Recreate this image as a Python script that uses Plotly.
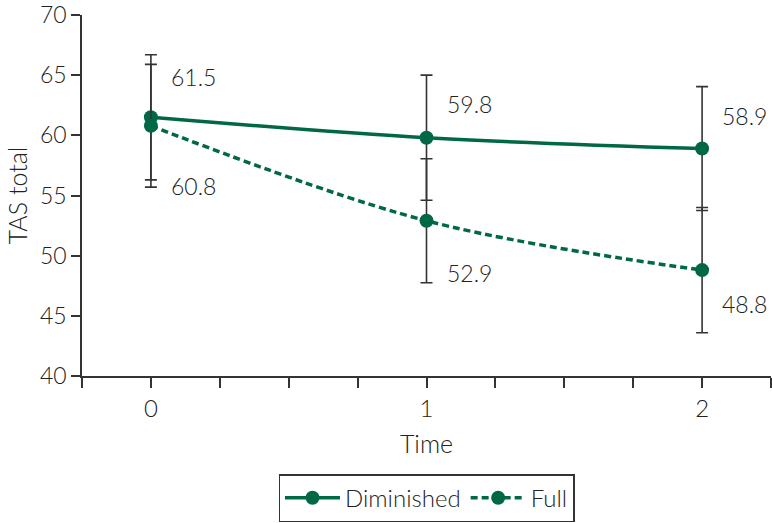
import plotly.graph_objects as go

time_points = [0, 1, 2]
diminished = [61.5, 59.8, 58.9]
diminished_err = [5.2, 5.2, 5.15]
full = [60.8, 52.9, 48.8]
full_err = [5.1, 5.15, 5.2]
y_ticks = [40, 45, 50, 55, 60, 65, 70]
x_tick_vals = [-0.25, 0, 0.25, 0.5, 0.75, 1, 1.25, 1.5, 1.75, 2, 2.25]
x_tick_text = ["", "0", "", "", "", "1", "", "", "", "2", ""]

GREEN = "#006846"
DARK = "#333333"
FONT = "Lato"

fig = go.Figure()
fig.add_trace(go.Scatter(
    x=time_points, y=diminished, name="Diminished", mode="lines+markers",
    line=dict(color=GREEN, width=3.5, shape="spline"),
    marker=dict(color=GREEN, size=14),
    error_y=dict(type="data", array=diminished_err, color=DARK, thickness=1.6, width=6),
))
fig.add_trace(go.Scatter(
    x=time_points, y=full, name="Full", mode="lines+markers",
    line=dict(color=GREEN, width=3.5, shape="spline", dash="7px,4px"),
    marker=dict(color=GREEN, size=14),
    error_y=dict(type="data", array=full_err, color=DARK, thickness=1.6, width=6),
))

dim_shift = [40, 34, 33]
full_shift = [-60, -52, -34]
for xs, ys, shifts in [(time_points, diminished, dim_shift), (time_points, full, full_shift)]:
    for xv, yv, s in zip(xs, ys, shifts):
        fig.add_annotation(x=xv, y=yv, text=f"{yv:.1f}", showarrow=False,
                           xanchor="left", yanchor="middle", xshift=18, yshift=s,
                           font=dict(family=FONT, size=23, color="#222", weight=300))

fig.update_layout(
    width=772, height=523,
    margin=dict(l=82, r=1, t=15, b=147, autoexpand=False),
    paper_bgcolor="white", plot_bgcolor="white",
    font=dict(family=FONT, size=23, color="#222", weight=300),
    showlegend=True,
    legend=dict(orientation="h", x=0.5, xanchor="center", y=-0.272, yanchor="top",
                bordercolor=DARK, borderwidth=1.5, font=dict(size=24, family=FONT, weight=300),
                itemwidth=55, tracegroupgap=0),
    xaxis=dict(range=[-0.25, 2.25], tickmode="array", tickvals=x_tick_vals, ticktext=x_tick_text,
               ticks="outside", ticklen=10, tickwidth=1.5, tickcolor=DARK, automargin=False,
               showline=True, linecolor=DARK, linewidth=1.6, showgrid=False, zeroline=False,
               title=dict(text="Time", standoff=15, font=dict(size=25)),
               tickfont=dict(size=24)),
    yaxis=dict(range=[40, 70], tickmode="array", tickvals=y_ticks, automargin=False,
               ticks="outside", ticklen=9, tickwidth=1.5, tickcolor=DARK,
               ticklabeloverflow="allow",
               showline=True, linecolor=DARK, linewidth=1.6, showgrid=False, zeroline=False,
               title=dict(text="TAS total", standoff=5, font=dict(size=25)),
               tickfont=dict(size=23)),
)

fig.write_html("out.html", config={"displayModeBar": False},
               post_script="document.body.style.margin='0';document.body.style.padding='0';")
